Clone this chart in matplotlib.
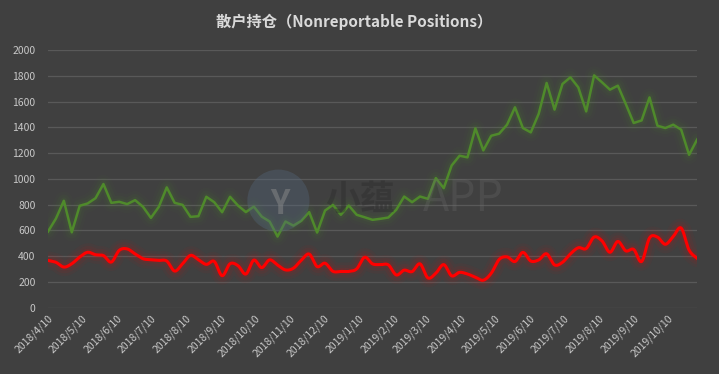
import numpy as np
import matplotlib
matplotlib.use('Agg')
import matplotlib.pyplot as plt
import matplotlib.dates as mdates
import datetime as dt

plt.rcParams['font.family'] = ['Noto Sans CJK SC', 'DejaVu Sans']

# weekly report dates, first Tuesday 2018/4/10
start = dt.date(2018, 4, 10)
n_weeks = 83
dates = [start + dt.timedelta(days=7 * i) for i in range(n_weeks)]

long_pos = [590, 691, 829, 584, 790, 808, 849, 959, 813, 821,
            803, 834, 782, 696, 782, 933, 813, 797, 704, 709,
            860, 818, 740, 860, 792, 741, 784, 706, 668, 551,
            668, 636, 673, 741, 582, 753, 797, 720, 792, 720,
            701, 681, 689, 699, 759, 862, 818, 862, 844, 1005,
            927, 1103, 1179, 1166, 1392, 1220, 1334, 1350, 1420, 1555,
            1394, 1360, 1505, 1744, 1537, 1736, 1788, 1710, 1523, 1803,
            1749, 1692, 1723, 1581, 1433, 1453, 1632, 1412, 1394, 1420,
            1381, 1186, 1303]

short_pos = [366, 351, 314, 340, 392, 429, 410, 403, 353, 444,
             455, 416, 379, 371, 366, 361, 283, 340, 405, 371,
             335, 358, 247, 340, 325, 260, 368, 310, 370, 330,
             292, 305, 367, 415, 318, 344, 281, 280, 280, 300,
             390, 339, 333, 331, 253, 290, 279, 339, 230, 266,
             333, 246, 273, 260, 235, 212, 266, 373, 393, 357,
             428, 361, 370, 417, 331, 351, 416, 464, 458, 547,
             517, 429, 513, 440, 451, 357, 540, 547, 491, 552,
             617, 446, 383]

title = '散户持仓（Nonreportable Positions）'
yticks = list(range(0, 2001, 200))


def catmull(x, y, steps=12):
    x = np.asarray(x, float)
    y = np.asarray(y, float)
    px = np.concatenate([[x[0]], x, [x[-1]]])
    py = np.concatenate([[y[0]], y, [y[-1]]])
    t = np.linspace(0, 1, steps, endpoint=False)
    xs, ys = [], []
    for i in range(1, len(px) - 2):
        for p, out in ((px, xs), (py, ys)):
            p0, p1, p2, p3 = p[i - 1], p[i], p[i + 1], p[i + 2]
            out.append(0.5 * ((2 * p1) + (-p0 + p2) * t
                              + (2 * p0 - 5 * p1 + 4 * p2 - p3) * t ** 2
                              + (-p0 + 3 * p1 - 3 * p2 + p3) * t ** 3))
    xs.append([x[-1]])
    ys.append([y[-1]])
    return np.concatenate(xs), np.concatenate(ys)


bg = '#404040'
fig = plt.figure(figsize=(7.19, 3.74), dpi=100, facecolor=bg)
ax = fig.add_axes([0.0668, 0.1778, 0.9026, 0.6885], facecolor=bg)

xnum = mdates.date2num(dates)

green = '#4f8a2b'
red = '#ff0000'
sx, sy = catmull(xnum, short_pos)
for w, a in ((13, 0.04), (9, 0.06), (5, 0.09)):
    ax.plot(xnum, long_pos, color=green, lw=w, alpha=a, solid_capstyle='round', zorder=2)
    ax.plot(sx, sy, color=red, lw=w, alpha=a, solid_capstyle='round', zorder=2)
ax.plot(xnum, long_pos, color=green, lw=1.8, zorder=3)
ax.plot(sx, sy, color=red, lw=2.2, zorder=3)

# watermark (logo disc + faint text), drawn over the lines like the original
ax.scatter([0.355], [0.415], s=2000, transform=ax.transAxes, color='#566a80',
           alpha=0.35, edgecolors='none', zorder=4)
ax.text(0.357, 0.40, 'Y', transform=ax.transAxes, fontsize=24, fontweight='bold',
        color='#8a8a8a', alpha=0.5, ha='center', va='center', zorder=4)
fig.text(0.452, 0.468, '小蕴', fontsize=25, fontweight='bold', color='#2e2e2e',
         alpha=0.45, ha='left', va='center', zorder=4)
fig.text(0.588, 0.468, 'APP', fontsize=31, color='#6a6a6a',
         alpha=0.3, ha='left', va='center', zorder=4)

ax.set_ylim(0, 2000)
ax.set_yticks(yticks)
ax.set_xlim(xnum[0], xnum[-1])
ax.xaxis.set_major_locator(mdates.MonthLocator(bymonthday=10))
ax.xaxis.set_major_formatter(
    plt.FuncFormatter(lambda v, p: '{0.year}/{0.month}/{0.day}'.format(mdates.num2date(v))))
ax.grid(axis='y', color='#595959', lw=0.9)
ax.set_axisbelow(True)
for s in ax.spines.values():
    s.set_visible(False)
ax.tick_params(axis='both', length=0, colors='#c8c8c8', labelsize=7.5)
ax.tick_params(axis='y', pad=9)
ax.tick_params(axis='x', pad=4)
for lab in ax.get_xticklabels():
    lab.set_rotation(45)
    lab.set_ha('right')
    lab.set_rotation_mode('anchor')

fig.text(0.492, 0.942, title, fontsize=11, fontweight='bold', color='#d9d9d9',
         ha='center', va='center')

fig.savefig('out.png', dpi=100, facecolor=bg)
